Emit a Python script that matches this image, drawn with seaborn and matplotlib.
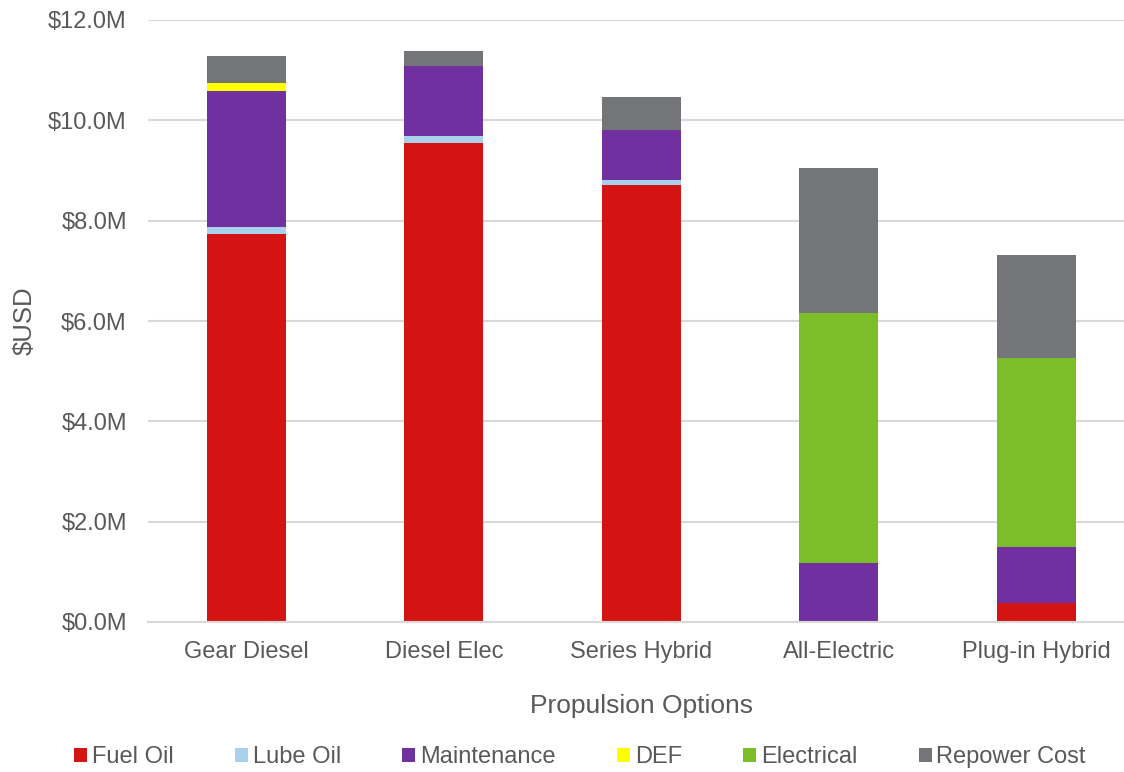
import matplotlib
matplotlib.use("Agg")
import matplotlib.pyplot as plt
import matplotlib.ticker as mticker
from matplotlib.patches import Patch
import numpy as np
import pandas as pd
import seaborn as sns

# Cost breakdown per propulsion option, in millions of USD
options = ["Gear Diesel", "Diesel Elec", "Series Hybrid", "All-Electric", "Plug-in Hybrid"]
fuel_oil = [7.74, 9.55, 8.71, 0.00, 0.37]
lube_oil = [0.13, 0.13, 0.10, 0.00, 0.00]
maintenance = [2.72, 1.41, 0.99, 1.18, 1.12]
def_fluid = [0.16, 0.00, 0.00, 0.00, 0.00]
electrical = [0.00, 0.00, 0.00, 4.98, 3.77]
repower = [0.54, 0.30, 0.67, 2.89, 2.06]

components = ["Fuel Oil", "Lube Oil", "Maintenance", "DEF", "Electrical", "Repower Cost"]
colors = ["#D41412", "#A9D1EC", "#7030A0", "#FFFF00", "#7CBD2A", "#747579"]

df = pd.DataFrame({
    "option": options,
    "Fuel Oil": fuel_oil,
    "Lube Oil": lube_oil,
    "Maintenance": maintenance,
    "DEF": def_fluid,
    "Electrical": electrical,
    "Repower Cost": repower,
})

sns.set_theme(style="white")
plt.rcParams["font.family"] = ["Liberation Sans", "DejaVu Sans"]

fig = plt.figure(figsize=(11.24, 7.72), dpi=100)
ax = fig.add_axes([147.8 / 1124, 150 / 772, 987 / 1124, 602 / 772])

text_color = "#595959"
grid_color = "#D9D9D9"

bottom = np.zeros(len(options))
for comp, col in zip(components, colors):
    sns.barplot(data=df, x="option", y=comp, color=col, bottom=bottom,
                width=0.40, ax=ax, saturation=1, linewidth=0)
    bottom = bottom + df[comp].to_numpy()

ax.set_ylim(0, 12)
ax.set_xlim(-0.5, len(options) - 0.5)
ax.yaxis.set_major_locator(mticker.MultipleLocator(2))
ax.yaxis.set_major_formatter(mticker.FuncFormatter(lambda v, p: f"${v:.1f}M"))
ax.set_axisbelow(True)
ax.grid(axis="y", color=grid_color, linewidth=1.5)
for s in ["top", "right", "left"]:
    ax.spines[s].set_visible(False)
ax.spines["bottom"].set_color(grid_color)
ax.spines["bottom"].set_linewidth(1.5)

ax.tick_params(axis="both", length=0, labelsize=17, colors=text_color)
ax.tick_params(axis="x", pad=14)
ax.tick_params(axis="y", pad=15)

ax.set_xlabel("Propulsion Options", fontsize=19, color=text_color, labelpad=22)
ax.set_ylabel(r"\$USD", fontsize=18.5, color=text_color, labelpad=8)

handles = [Patch(facecolor=c, edgecolor="none") for c in colors]
fig.legend(handles, components, loc="center", bbox_to_anchor=(0.516, 15 / 772),
           ncol=6, frameon=False, fontsize=17, handlelength=0.55, handleheight=0.55,
           handletextpad=0.2, columnspacing=2.6, labelcolor=text_color)

fig.savefig("out.png", dpi=100)
